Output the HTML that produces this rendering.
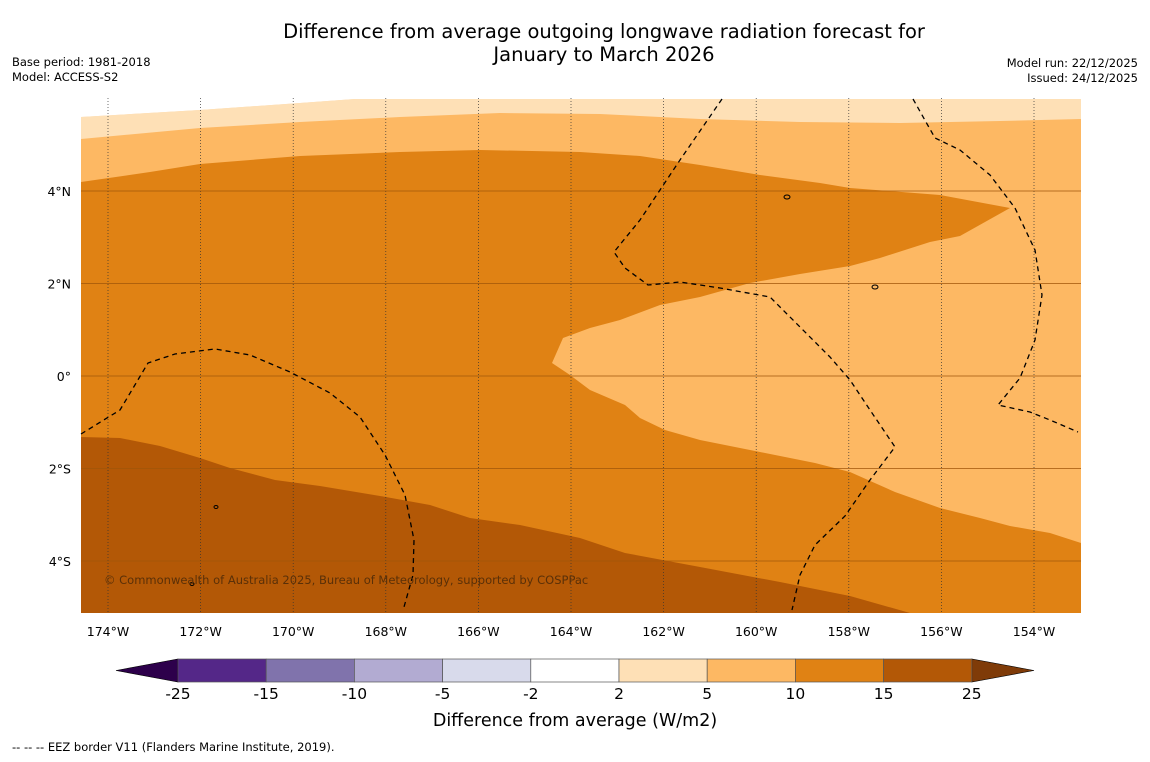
<!DOCTYPE html>
<html><head><meta charset="utf-8"><style>
body{margin:0;background:#fff;width:1150px;height:758px;overflow:hidden;font-family:"DejaVu Sans","Liberation Sans",sans-serif}
</style></head><body>
<svg width="1150" height="758">
<text x="604" y="38" font-size="19.5" text-anchor="middle">Difference from average outgoing longwave radiation forecast for</text>
<text x="604" y="61" font-size="19.5" text-anchor="middle">January to March 2026</text>
<text x="12" y="66" font-size="11.5">Base period: 1981-2018</text>
<text x="12" y="81" font-size="11.5">Model: ACCESS-S2</text>
<text x="1138" y="67" font-size="11.5" text-anchor="end">Model run: 22/12/2025</text>
<text x="1138" y="82" font-size="11.5" text-anchor="end">Issued: 24/12/2025</text>
<g id="map"></g>
<g id="cbar"></g>
<text x="575" y="726" font-size="17.5" text-anchor="middle">Difference from average (W/m2)</text>
<text x="12" y="751" font-size="11.5">--  --  -- EEZ border V11 (Flanders Marine Institute, 2019).</text>
</svg>
<script>
const lonTicks=[-174,-172,-170,-168,-166,-164,-162,-160,-158,-156,-154];
const lonLabels=["174°W","172°W","170°W","168°W","166°W","164°W","162°W","160°W","158°W","156°W","154°W"];
const latTicks=[4,2,0,-2,-4];
const latLabels=["4°N","2°N","0°","2°S","4°S"];
const levels=["-25","-15","-10","-5","-2","2","5","10","15","25"];
const levelColors=["#542788","#8073ac","#b2abd2","#d8daeb","#ffffff","#fee0b6","#fdb863","#e08214","#b35806"];
const X0=81,X1=1081,Y0=98,Y1=613;
const xLon=l=>108+(l+174)*46.3, yLat=l=>376-l*46.25;
const ns="http://www.w3.org/2000/svg";
const map=document.getElementById('map');
function add(p,tag,attrs){const e=document.createElementNS(ns,tag);for(const k in attrs)e.setAttribute(k,attrs[k]);p.appendChild(e);return e;}
function pts(a){return a.map(p=>p.join(',')).join(' ');}
const whiteTop=[[81,117],[200,110],[300,103],[355,99],[1081,99]];
const band25Bot=[[81,139],[200,128],[300,122],[400,117],[500,113],[600,114],[700,119],[800,122],[900,123],[1000,121],[1081,119]];
const band1015=[[81,182],[150,172],[200,164],[300,156],[400,152],[480,150],[580,152],[640,156],[700,165],[760,175],[820,183],[850,188],[940,195],[1010,208],[960,236],[930,242],[880,258],[850,266],[800,274],[750,283],[700,297],[660,305],[620,320],[590,328],[563,338],[552,363],[570,375],[590,390],[625,405],[640,418],[665,430],[700,440],[760,452],[815,463],[850,472],[895,492],[940,508],[980,518],[1010,526],[1050,533],[1081,543],[1081,613],[81,613]];
const band1525=[[81,437],[120,438],[160,446],[200,458],[230,468],[275,480],[320,486],[380,496],[430,505],[470,518],[520,525],[580,538],[625,553],[700,567],[780,582],[850,596],[910,613],[81,613]];
const eez=[
[[81,434],[120,410],[148,363],[175,354],[215,349],[250,355],[290,372],[330,393],[360,417],[385,455],[405,495],[414,540],[413,575],[404,607]],
[[722,99],[680,160],[640,220],[614,252],[625,268],[648,285],[680,282],[720,288],[770,297],[800,327],[830,357],[850,380],[870,410],[895,447],[870,480],[845,516],[815,545],[800,575],[792,610]],
[[913,99],[935,138],[960,150],[990,175],[1015,208],[1035,250],[1042,295],[1035,340],[1020,378],[998,405],[1030,412],[1050,420],[1078,432]]];
let e=add(map,'rect',{x:X0,y:Y0,width:X1-X0,height:Y1-Y0,fill:levelColors[6]});

e=add(map,'polygon',{points:pts([[81,98],...whiteTop,[1081,119],...band25Bot.slice().reverse()]),fill:levelColors[5]});

e=add(map,'polygon',{points:pts([[81,97],...whiteTop,[1081,97]]),fill:'#fff'});

e=add(map,'polygon',{points:pts(band1015),fill:levelColors[7]});

e=add(map,'polygon',{points:pts(band1525),fill:levelColors[8]});

lonTicks.forEach((l,i)=>{const x=xLon(l);
 e=add(map,'line',{x1:x,x2:x,y1:Y0,y2:Y1,stroke:'#333','stroke-width':0.7,'stroke-dasharray':'1,2'});
 
 e=add(map,'text',{x:x,y:636,'font-size':12.5,'text-anchor':'middle'});e.textContent=lonLabels[i];
 });
latTicks.forEach((l,i)=>{const y=yLat(l);
 e=add(map,'line',{x1:X0,x2:X1,y1:y,y2:y,stroke:'#a0560a','stroke-width':0.8});
 
 e=add(map,'text',{x:71,y:y+5,'font-size':12.5,'text-anchor':'end'});e.textContent=latLabels[i];
 });
eez.forEach(a=>{e=add(map,'polyline',{points:pts(a),fill:'none',stroke:'#000','stroke-width':1.3,'stroke-dasharray':'5,4'});
 });
[[787,197,3,2],[875,287,3,2],[216,507,2,1.5],[192,584,2,1.5]].forEach(a=>{e=add(map,'ellipse',{cx:a[0],cy:a[1],rx:a[2],ry:a[3],fill:'none',stroke:'#000','stroke-width':1});
 });
e=add(map,'text',{x:104,y:584,'font-size':11.5,fill:'#5a3008'});e.textContent='© Commonwealth of Australia 2025, Bureau of Meteorology, supported by COSPPac';

const cb=document.getElementById('cbar');const cx0=178,cw=88.2,cy=659,ch=23;
e=add(cb,'polygon',{points:`116,670.5 ${cx0},${cy} ${cx0},${cy+ch}`,fill:'#2d004b',stroke:'#000','stroke-width':0.6});

const cEnd=cx0+cw*levelColors.length;
e=add(cb,'polygon',{points:`1034,670.5 ${cEnd},${cy} ${cEnd},${cy+ch}`,fill:'#7f3b08',stroke:'#000','stroke-width':0.6});

levelColors.forEach((c,i)=>{e=add(cb,'rect',{x:cx0+i*cw,y:cy,width:cw,height:ch,fill:c,stroke:'#555','stroke-width':0.7});
 });
levels.forEach((t,i)=>{e=add(cb,'text',{x:cx0+i*cw,y:699,'font-size':15.5,'text-anchor':'middle'});e.textContent=t;
 });
</script>
</body></html>
